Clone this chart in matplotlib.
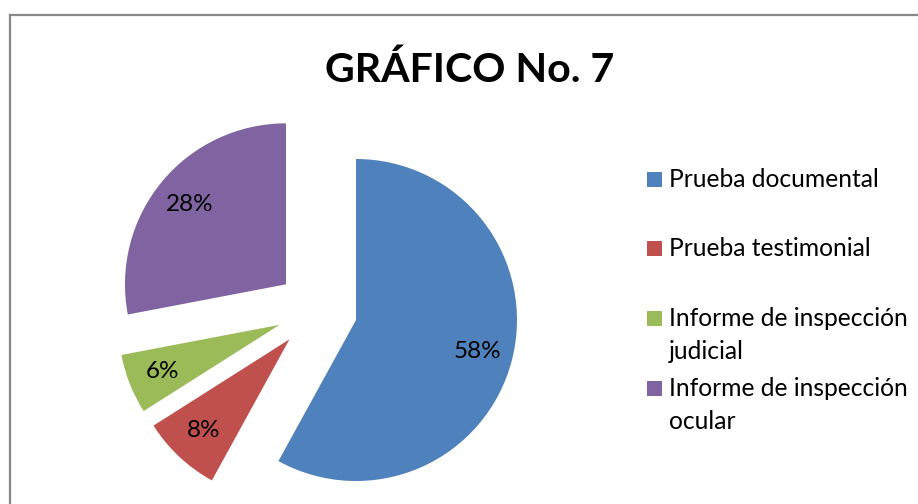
import matplotlib
matplotlib.use("Agg")
import matplotlib.pyplot as plt
from matplotlib.lines import Line2D
from matplotlib.patches import Rectangle

plt.rcParams["font.family"] = ["Lato", "DejaVu Sans"]

# data
categories = [
    "Prueba documental",
    "Prueba testimonial",
    "Informe de inspección\njudicial",
    "Informe de inspección\nocular",
]
percentages = [58, 8, 6, 28]
colors = ["#4F81BD", "#C0504D", "#9BBB59", "#8064A2"]
title = "GRÁFICO No. 7"

W, H = 918, 504
fig = plt.figure(figsize=(W / 100, H / 100), dpi=100)

# chart border (only left and top edges are inside the picture)
bc = "#888888"
fig.add_artist(Line2D([10 / W, 10 / W], [0, 1 - 15 / H], color=bc, lw=1.6))
fig.add_artist(Line2D([10 / W, 1], [1 - 15 / H, 1 - 15 / H], color=bc, lw=1.6))

# pie: center at (317, 310) px from top, radius 161 px
cx, cy, r = 317, H - 310, 161
lim = 1.6
half = lim * r
ax = fig.add_axes([(cx - half) / W, (cy - half) / H, 2 * half / W, 2 * half / H])
wedges, texts, autotexts = ax.pie(
    percentages,
    colors=colors,
    startangle=90,
    counterclock=False,
    explode=[0.25] * len(percentages),
    autopct="%.0f%%",
    pctdistance=0.78,
    wedgeprops={"linewidth": 0},
    textprops={"fontsize": 17.5, "color": "black"},
)
ax.set_xlim(-lim, lim)
ax.set_ylim(-lim, lim)
ax.set_aspect("equal")
ax.axis("off")

fig.text(470 / W, (H - 82) / H, title, ha="center", va="baseline",
         fontsize=29.6, fontweight="bold")

# legend, drawn by hand so the swatch lines up with the first text line
row_y = [179, 248, 318, 388]
line_gap = 33
for lab, col, y in zip(categories, colors, row_y):
    fig.add_artist(Rectangle((647 / W, (H - y - 7.5) / H), 15 / W, 15 / H,
                             facecolor=col, edgecolor="none"))
    for i, part in enumerate(lab.split("\n")):
        fig.text(669 / W, (H - y - 8 - i * line_gap) / H, part,
                 ha="left", va="baseline", fontsize=17.7)

fig.savefig("out.png", dpi=100)
